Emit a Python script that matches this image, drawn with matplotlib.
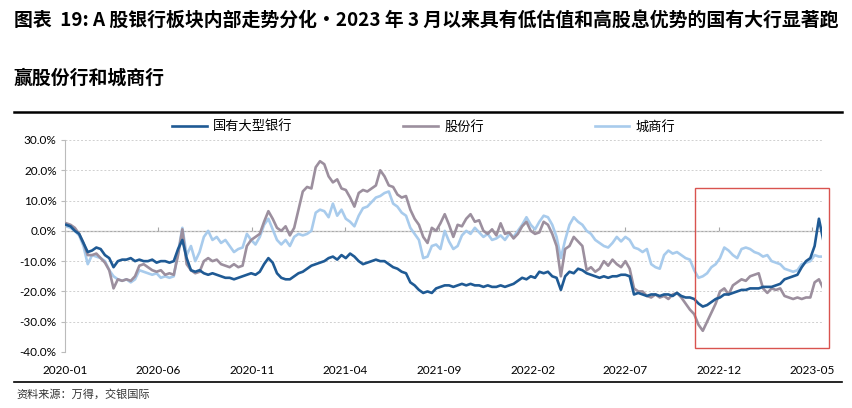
import matplotlib
matplotlib.use("Agg")
import matplotlib.pyplot as plt
import matplotlib.dates as mdates
from matplotlib.patches import Rectangle
import pandas as pd
import numpy as np

plt.rcParams['font.family'] = ['Noto Sans CJK SC', 'DejaVu Sans']

# weekly closes, cumulative return in % since 2020-01-03
dates = pd.date_range("2020-01-03", periods=177, freq="7D")

big_banks = [
    2, 1.5, 0, -1, -4, -7, -6.5, -5.5, -6, -8,
    -9, -12, -10, -9.5, -9.5, -9, -10, -9.5, -10, -10,
    -9.5, -10.5, -10, -10, -10.5, -10, -6, -3, -9, -13,
    -13.5, -13, -14, -14.5, -14, -14.5, -15, -15.5, -15.5, -16,
    -15.5, -15, -14.5, -14, -14.5, -13.5, -11, -9, -10.5, -14,
    -15.5, -16, -16, -15, -14, -13.5, -12.5, -11.5, -11, -10.5,
    -10, -9, -8.5, -9.5, -8, -9, -7.5, -8.5, -10, -11,
    -10.5, -10, -9.5, -10, -10, -11, -12, -12.5, -13.5, -14,
    -17, -18, -19.5, -20.5, -20, -20.5, -19, -18.5, -18, -18,
    -18.5, -18, -17.5, -18, -17.5, -18, -18, -18.5, -18, -18.5,
    -18.5, -18, -18.5, -18, -17.5, -16.5, -15.5, -16, -15, -15.5,
    -13.5, -14, -13.5, -15, -15.5, -19.5, -15, -13.5, -14, -12.5,
    -13, -14, -14.5, -15, -15.5, -15, -15.5, -15, -15, -14.5,
    -14.5, -15, -21, -20.5, -21, -21.5, -21, -21, -21.5, -21,
    -21, -21.5, -20.5, -21.5, -22, -22, -22.5, -24, -25, -24.5,
    -23.5, -22.5, -22, -21, -21, -20.5, -20, -19.5, -19.5, -19,
    -19, -19, -18.5, -18.5, -18.5, -18, -17.5, -16, -15.5, -15,
    -14.5, -12, -10, -9, -5, 4, -3,
]

joint_stock = [
    2.5, 2, 1, -1, -4, -8, -8, -7.5, -9, -10.5,
    -13, -19, -16, -16.5, -16, -16.5, -15, -11.5, -11, -12,
    -13, -13.5, -13, -14.5, -14, -14.5, -8, 0.5, -11, -13,
    -14, -13.5, -10, -9, -10, -9.5, -11, -11.5, -12, -11,
    -12, -11.5, -5, -3, -2, -1, 3, 6.5, 4, 1,
    0, 1.5, -1.5, 1, 7, 13, 14.5, 14, 21, 23,
    22, 18, 16, 17, 14, 13.5, 11, 8, 12.5, 13.5,
    13, 14, 15, 20, 18, 15, 14.5, 12, 11, 11.5,
    7, 4, 2, -2, -4, 1, 0, 2.5, 5.5, 2,
    -2, 2, 1.5, 4, 5.5, 3, 3.5, 0, -1, 0.5,
    -1.5, 2.5, -1, -0.5, -2.5, -1, 1.5, 3, 0, -1,
    -0.5, 3, 2, -1, -5, -15, -6, -5, -2, -3.5,
    -5, -13, -12, -13.5, -12.5, -10, -11.5, -9.5, -11, -12,
    -10, -12.5, -19, -20, -20, -21.5, -22, -21, -22, -21.5,
    -22.5, -21, -20.5, -22, -24, -26, -27.5, -31, -33, -30,
    -27, -24, -20, -19, -21, -18, -17, -16, -16.5, -15,
    -14.5, -14, -19, -20.5, -19, -19.5, -19, -21.5, -22, -22.5,
    -22, -22.5, -22, -22, -17, -16, -19,
]

city_banks = [
    1.5, 1, 0, -1.5, -5, -11, -8, -8.5, -9, -10,
    -13, -15, -16, -16.5, -16, -17, -16, -13, -13.5, -14,
    -14.5, -14, -15.5, -15, -15.5, -15, -7, 1, -8, -5,
    -10, -7, -2, 0, -3, -2, -4, -3, -5, -7,
    -6, -5.5, -1, -3, -4.5, -2, 2, 4, 0.5, -3,
    -4.5, -3, -5, -2, -1, -1.5, -1, 0, 6, 7,
    6.5, 4.5, 9, 5, 7, 4, 3, 1.5, 5, 7.5,
    8, 9.5, 11, 11.5, 12.5, 13, 9, 8, 6, 5,
    1, -1, -3, -9, -8.5, -5, -4.5, -6, 0, -3.5,
    -6, -5, -1.5, 0, -1, 1, -0.5, -2, -1, -3,
    -2.5, -1.5, -3, -1, -2, 0, 2, 4.5, 2, 0.5,
    3, 5, 4.5, 2, -2, -9, -3, 2, 4.5, 3,
    2, 0, -1, -3, -4, -5, -5.5, -4, -2, -3.5,
    -2, -3, -5.5, -6, -7, -6, -11, -12, -12.5, -8,
    -6.5, -7.5, -7, -8, -9, -9.5, -13, -15.5, -15, -14,
    -12, -11, -9, -5.5, -6.5, -8, -9, -6, -5.5, -6,
    -7, -7.5, -8.5, -8, -10, -10.5, -11, -12.5, -13, -13.5,
    -13, -11, -10.5, -10, -8, -8.5, -8.5,
]

tick_labels = ["2020-01", "2020-06", "2020-11", "2021-04", "2021-09",
               "2022-02", "2022-07", "2022-12", "2023-05"]
yticks = [30, 20, 10, 0, -10, -20, -30, -40]

dark_blue = "#1f5a94"
mauve = "#9c8f9e"
light_blue = "#a8cbec"

fig = plt.figure(figsize=(8.53, 4.08), dpi=100)
ax = fig.add_axes([65 / 853, 1 - 352 / 408, (822 - 65) / 853, 212 / 408])

ax.plot(dates, big_banks, color=dark_blue, lw=1.9, label="国有大型银行", zorder=4)
ax.plot(dates, joint_stock, color=mauve, lw=1.9, label="股份行", zorder=3)
ax.plot(dates, city_banks, color=light_blue, lw=1.9, label="城商行", zorder=2)

ax.set_ylim(-40, 30)
ax.set_xlim(pd.Timestamp("2020-01-01"), pd.Timestamp("2023-05-17"))
ax.set_yticks(yticks)
ax.set_yticklabels([f"{v:.1f}%" for v in yticks], family="Lato", fontsize=8.5)
tick_pos = [pd.Timestamp(t + "-01") for t in tick_labels]
ax.set_xticks(tick_pos)
ax.set_xticklabels(tick_labels, family="Lato", fontsize=8.5)
ax.tick_params(axis="x", length=0, pad=9)
ax.tick_params(axis="y", length=3, color="#bbbbbb", pad=3)

ax.grid(axis="y", color="#d0d0d0", ls=(0, (2, 2)), lw=0.7)
for s in ["top", "right", "bottom"]:
    ax.spines[s].set_visible(False)
ax.spines["left"].set_color("#bbbbbb")
ax.axhline(0, color="#a8a8a8", lw=0.9, zorder=1)
ax.vlines(tick_pos[1:], 0, 1.2, color="#a8a8a8", lw=0.8, zorder=1)

# highlighted window
ax.add_patch(Rectangle((mdates.date2num(pd.Timestamp("2022-10-22")), -38.8),
                       mdates.date2num(pd.Timestamp("2023-05-28")) - mdates.date2num(pd.Timestamp("2022-10-22")),
                       52.8, fill=False, ec="#d9534f", lw=1.0, clip_on=False, zorder=5))

fig.legend(loc="center", bbox_to_anchor=(0.497, 1 - 127 / 408), ncol=3, frameon=False,
           fontsize=9.5, handlelength=2.6, handletextpad=0.5, columnspacing=8.4)

fig.text(14 / 853, 1 - 20 / 408,
         "图表  19: A 股银行板块内部走势分化·2023 年 3 月以来具有低估值和高股息优势的国有大行显著跑",
         fontsize=13.6, fontweight="bold", va="center", ha="left")
fig.text(14 / 853, 1 - 78 / 408, "赢股份行和城商行",
         fontsize=13.6, fontweight="bold", va="center", ha="left")

fig.add_artist(plt.Line2D([14 / 853, 842 / 853], [1 - 112 / 408] * 2, color="black", lw=1.8))
fig.add_artist(plt.Line2D([14 / 853, 842 / 853], [1 - 382 / 408] * 2, color="black", lw=1.2))
fig.text(16 / 853, 1 - 394 / 408, "资料来源：万得，交银国际", fontsize=8, style="italic",
         color="#333333", va="center", ha="left")

fig.savefig("out.png", dpi=100, facecolor="white")
